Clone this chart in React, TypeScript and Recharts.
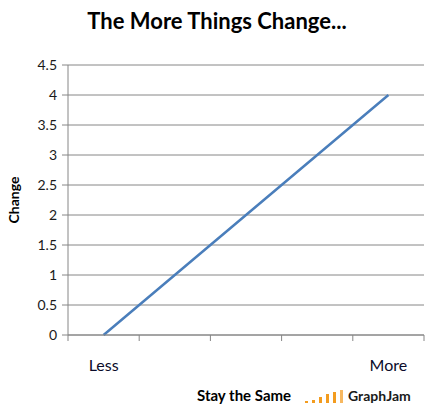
import { LineChart, Line, XAxis, YAxis, CartesianGrid } from "recharts"

// categories along the bottom, one value per category
const categories = ["Less", "", "", "", "More"]
const changeValues = [0, 1, 2, 3, 4]
const yTicks = [0, 0.5, 1, 1.5, 2, 2.5, 3, 3.5, 4, 4.5]
const logoBars = [2, 3, 6, 9, 11, 13]

const data = categories.map((label, i) => ({ pos: i + 0.5, label, change: changeValues[i] }))
// band edges get tick marks, band centres get labels
const xTicks = categories.flatMap((_, i) => [i, i + 0.5]).concat(categories.length)

const FONT = "Lato, 'Open Sans', sans-serif"

function XTick(props: any) {
  const { x, y, payload } = props
  const v = payload.value as number
  if (Number.isInteger(v)) {
    return <line x1={x} x2={x} y1={y - 8} y2={y - 2} stroke="#868686" />
  }
  return (
    <text x={x} y={y + 28} textAnchor="middle" fontSize={16} fill="#0b0b2a" fontFamily={FONT}>
      {categories[v - 0.5]}
    </text>
  )
}

export default function App() {
  return (
    <div style={{ position: "relative", width: 434, height: 415, background: "#fff", fontFamily: FONT }}>
      <style>{"body{margin:0}"}</style>
      <div
        style={{
          position: "absolute",
          top: 7,
          left: 0,
          width: 434,
          textAlign: "center",
          fontSize: 22,
          fontWeight: 700,
          color: "#000",
        }}
      >
        The More Things Change...
      </div>
      <LineChart width={434} height={415} data={data} margin={{ top: 65, right: 10, bottom: 0, left: 0 }}>
        <CartesianGrid vertical={false} stroke="#868686" />
        <XAxis
          dataKey="pos"
          type="number"
          domain={[0, categories.length]}
          ticks={xTicks}
          interval={0}
          tick={<XTick />}
          tickLine={false}
          axisLine={{ stroke: "#868686" }}
          height={80}
        />
        <YAxis
          type="number"
          domain={[0, 4.5]}
          ticks={yTicks}
          interval={0}
          width={68}
          tick={{ fontSize: 14, fill: "#1a1a1a", fontFamily: FONT }}
          tickLine={{ stroke: "#868686" }}
          tickSize={6}
          tickMargin={5}
          axisLine={{ stroke: "#868686" }}
          label={{
            value: "Change",
            angle: -90,
            position: "insideLeft",
            offset: 14,
            style: { fontSize: 14, fontWeight: 700, fill: "#000", fontFamily: FONT, textAnchor: "middle" },
          }}
        />
        <Line
          dataKey="change"
          stroke="#4a7ebb"
          strokeWidth={2.5}
          dot={false}
          activeDot={false}
          isAnimationActive={false}
        />
      </LineChart>
      <div
        style={{
          position: "absolute",
          top: 386,
          left: 197,
          fontSize: 15,
          fontWeight: 700,
          color: "#000",
        }}
      >
        Stay the Same
      </div>
      <div style={{ position: "absolute", top: 390, left: 305, display: "flex", alignItems: "flex-end", height: 13 }}>
        {logoBars.map((h, i) => (
          <div
            key={i}
            style={{
              width: 3,
              height: h,
              marginRight: 4,
              background: i === logoBars.length - 1 ? "#f7b860" : "#f39c1f",
            }}
          />
        ))}
      </div>
      <div
        style={{
          position: "absolute",
          top: 387,
          left: 348,
          fontSize: 14,
          fontWeight: 700,
          color: "#1a1a1a",
        }}
      >
        GraphJam
      </div>
    </div>
  )
}
